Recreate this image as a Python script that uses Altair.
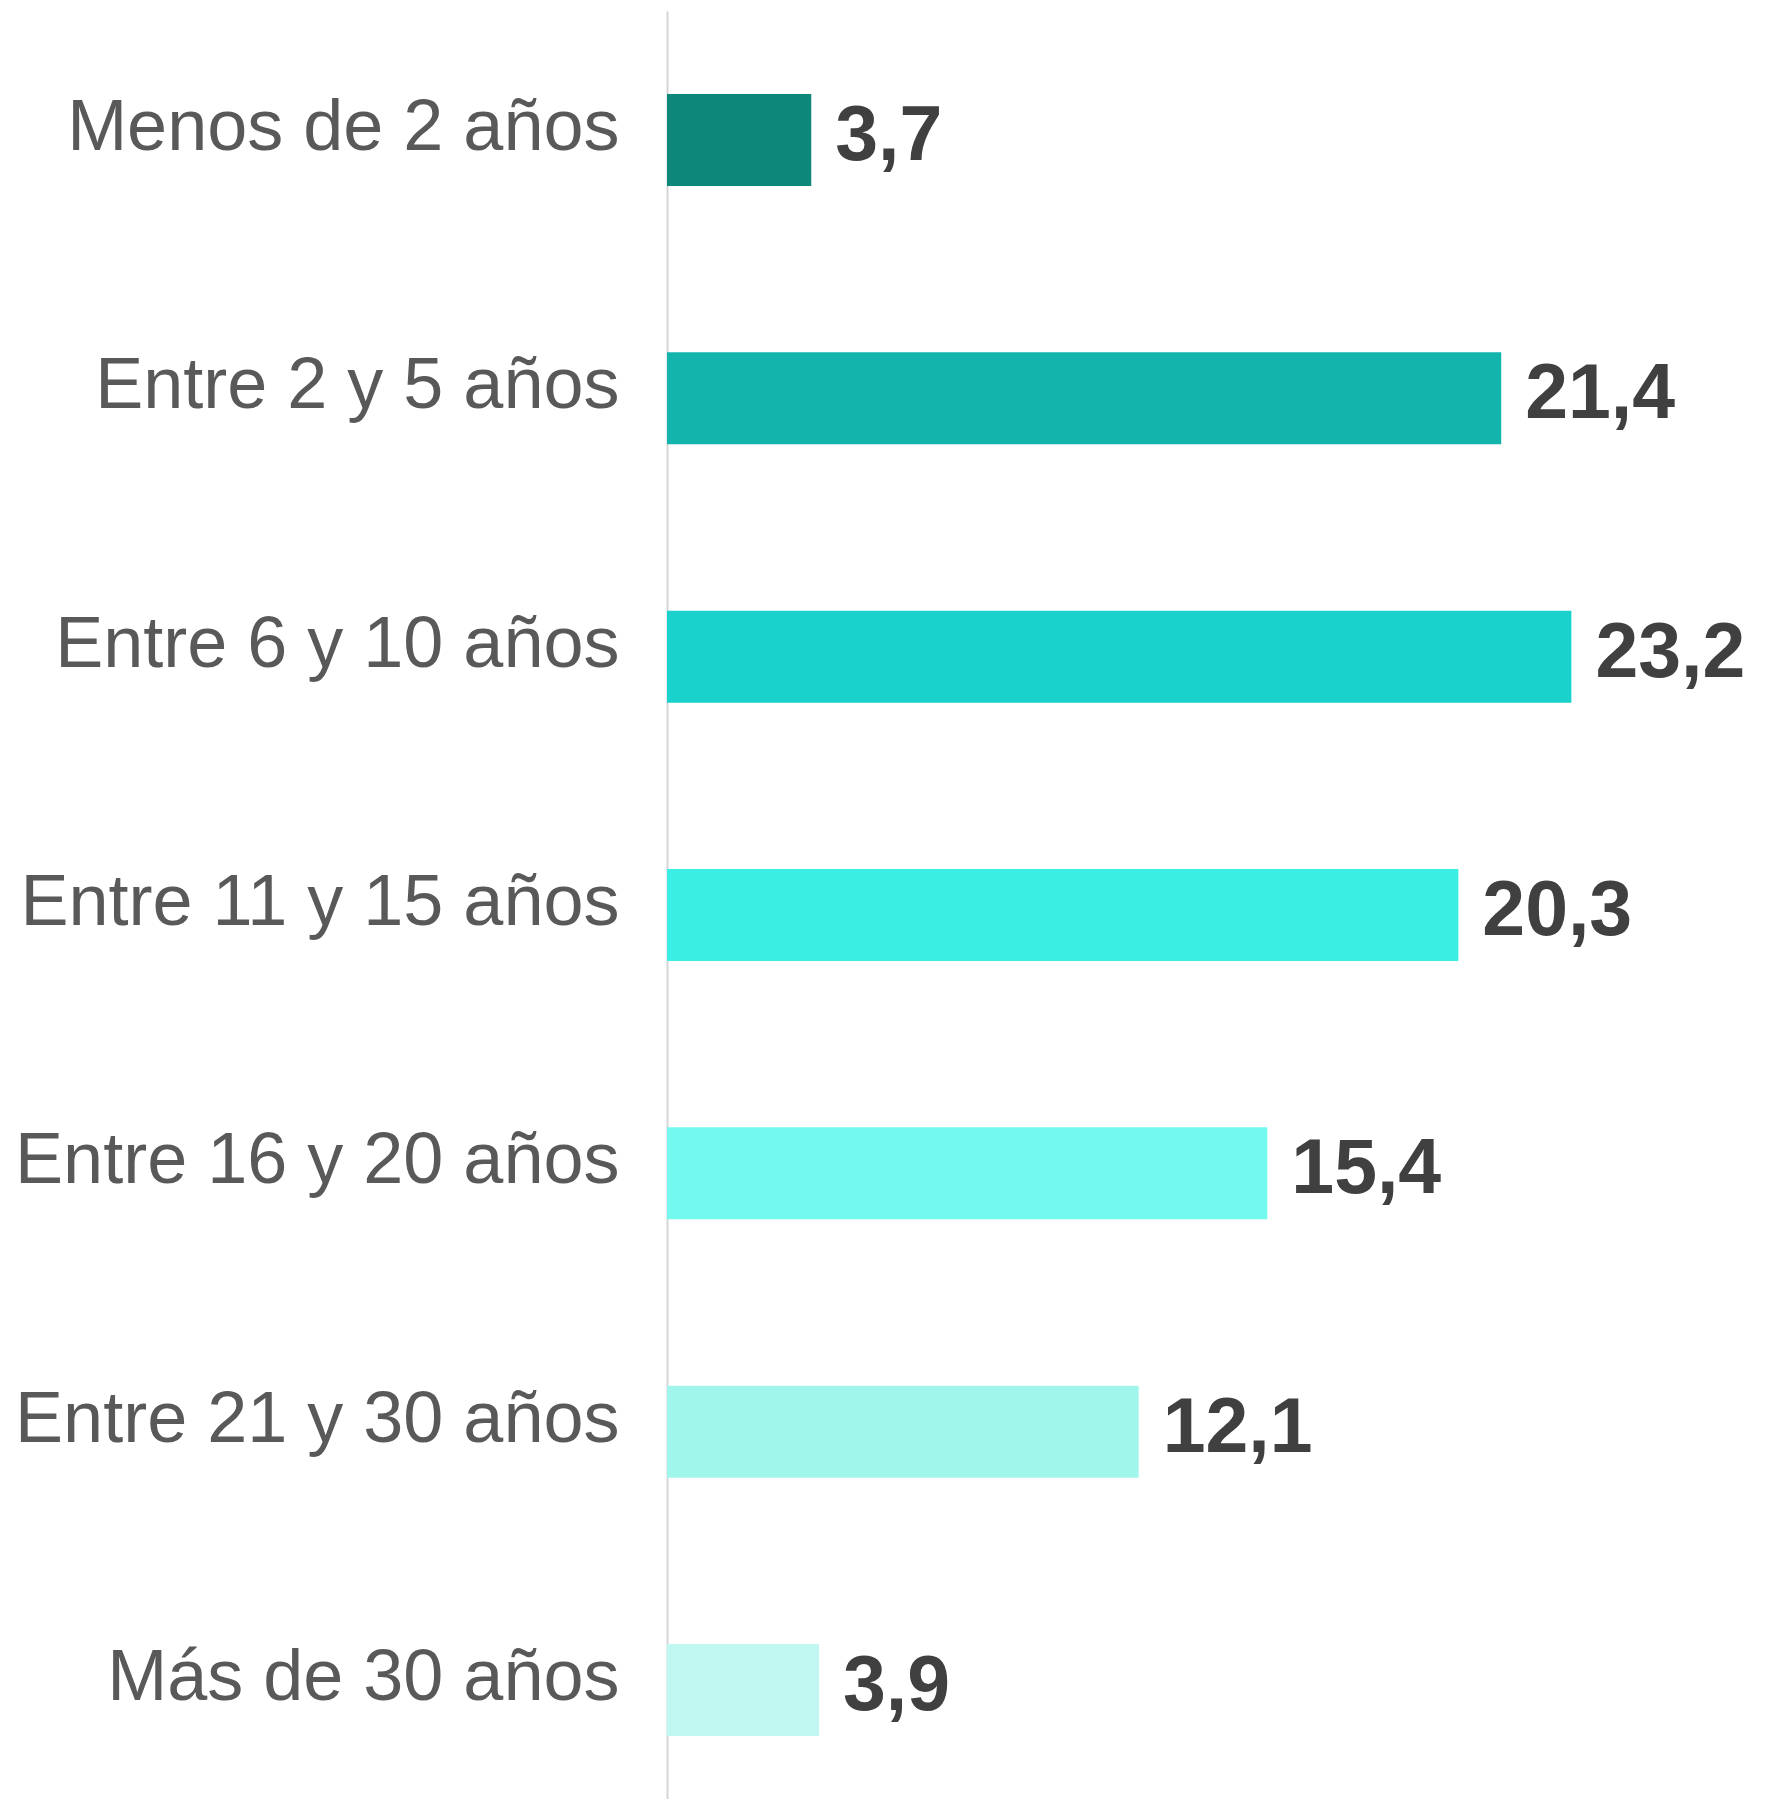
import altair as alt
import pandas as pd

categories = ["Menos de 2 años", "Entre 2 y 5 años", "Entre 6 y 10 años",
              "Entre 11 y 15 años", "Entre 16 y 20 años", "Entre 21 y 30 años",
              "Más de 30 años"]
values = [3.7, 21.4, 23.2, 20.3, 15.4, 12.1, 3.9]
colors = ["#0d877a", "#12b4ac", "#19d2cc", "#3beee4", "#74f9ef", "#a1f6ec", "#c0f7f0"]

df = pd.DataFrame({"cat": categories, "v": values})

y = alt.Y("cat:N", sort=categories, title=None,
          scale=alt.Scale(range=[0, 1808], paddingInner=0.6439,
                          paddingOuter=0.3213, round=False),
          axis=alt.Axis(domain=True, domainColor="#d6d6d6", domainWidth=2,
                        ticks=False, labelFont="Liberation Sans", labelFontSize=72,
                        labelColor="#595959", labelPadding=48, labelOffset=-12,
                        labelLimit=700, grid=False))
x = alt.X("v:Q", title=None, scale=alt.Scale(domain=[0, 27.5], nice=False),
          axis=None)

bars = alt.Chart(df).mark_bar().encode(
    x=x, y=y,
    color=alt.Color("cat:N", sort=categories,
                    scale=alt.Scale(domain=categories, range=colors), legend=None),
)

text = alt.Chart(df).transform_calculate(
    lab="replace(format(datum.v, '.1f'), '.', ',')"
).mark_text(align="left", baseline="middle", dx=24, dy=-3,
            font="Liberation Sans", fontSize=77, fontWeight="bold",
            color="#404040").encode(x=x, y=y, text="lab:N")

chart = (bars + text).properties(
    width=1072, height=1788,
    background="white",
    autosize=alt.AutoSizeParams(type="none"),
    padding={"left": 659, "top": 3, "right": 8, "bottom": 0},
).configure_view(strokeWidth=0, stroke="transparent")

chart.save("out.html", embed_options={"renderer": "svg", "actions": False})
